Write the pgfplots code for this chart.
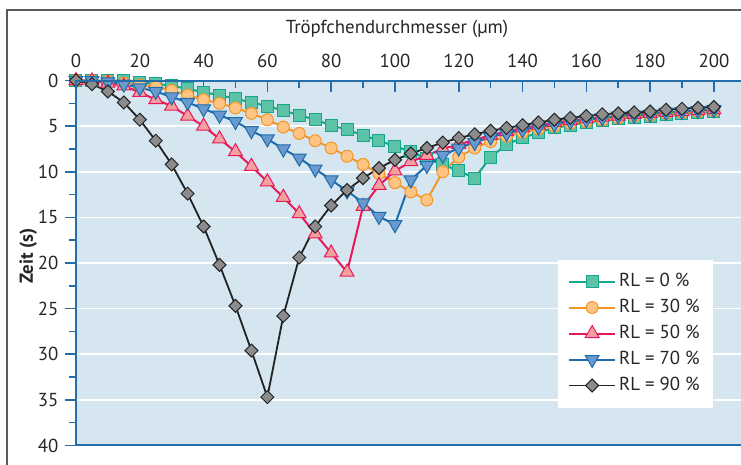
\documentclass[border=0pt]{standalone}
\usepackage{fontspec}
\setmainfont{PT Sans}
\usepackage{pgfplots}
\pgfplotsset{compat=1.18}

\definecolor{axisblue}{RGB}{38,110,170}
\definecolor{bgblue}{RGB}{213,230,240}
\definecolor{framegray}{RGB}{90,90,90}
\definecolor{tealline}{RGB}{22,166,140}
\definecolor{tealfill}{RGB}{93,195,167}
\definecolor{orangeline}{RGB}{243,150,40}
\definecolor{orangefill}{RGB}{255,196,130}
\definecolor{redline}{RGB}{232,25,90}
\definecolor{redfill}{RGB}{244,160,160}
\definecolor{blueline}{RGB}{28,108,174}
\definecolor{bluefill}{RGB}{106,154,205}
\definecolor{blackline}{RGB}{34,34,34}
\definecolor{grayfill}{RGB}{140,140,140}

\begin{document}
\fontsize{9.4}{11}\selectfont
\begin{tikzpicture}
\begin{axis}[
  scale only axis, width=332.5pt, height=182.5pt,
  xmin=0, xmax=208.5, ymin=0, ymax=40, y dir=reverse,
  clip=false,
  axis background/.style={fill=bgblue},
  axis line style={draw=none},
  xtick={0,20,...,200}, minor x tick num=1,
  ytick={0,5,...,40}, minor y tick num=1,
  xtick pos=upper, xticklabel pos=upper,
  ytick pos=left, yticklabel pos=left,
  tick align=inside, ytick align=outside,
  major tick length=5.5pt, minor tick length=3.5pt,
  tick style={axisblue, line width=0.8pt},
  ymajorgrids, major grid style={white, line width=0.8pt},
  /pgf/number format/assume math mode=true,
  tick label style={font=\fontsize{9.4}{11}\selectfont, text=black!85},
  xticklabel style={yshift=3pt},
  legend cell align=left,
  legend style={at={(0.958,0.103)}, anchor=south east, draw=none, fill=white,
    row sep=1pt, inner xsep=5pt, inner ysep=5pt,
    nodes={inner sep=1.5pt, text height=7pt, text depth=2pt},
    font=\fontsize{9.4}{11}\selectfont, text=black!85},
  legend image code/.code={\draw[mark repeat=2,mark phase=2,#1] plot coordinates {(0pt,0pt) (11.5pt,0pt) (23pt,0pt)};},
]

% RL = 0 %
\addplot[tealline, line width=1pt, mark=square*, mark size=3pt,
  mark options={fill=tealfill, draw=tealline, line width=0.5pt}] coordinates {
  (0,0) (5,0) (10,0) (15,0.05) (20,0.2) (25,0.35) (30,0.6) (35,0.9) (40,1.3)
  (45,1.6) (50,2.0) (55,2.4) (60,2.8) (65,3.3) (70,3.8) (75,4.3) (80,4.9)
  (85,5.4) (90,6.0) (95,6.6) (100,7.2) (105,7.8) (110,8.6) (115,9.2) (120,9.9)
  (125,10.7) (130,8.4) (135,7.0) (140,6.3) (145,5.7) (150,5.2) (155,4.9)
  (160,4.6) (165,4.4) (170,4.2) (175,4.0) (180,3.9) (185,3.7) (190,3.6)
  (195,3.5) (200,3.4)
};
\addlegendentry{RL = 0 \%}

% RL = 30 %
\addplot[orangeline, line width=1pt, mark=*, mark size=3pt,
  mark options={fill=orangefill, draw=orangeline, line width=0.5pt}] coordinates {
  (0,0) (5,0) (10,0.1) (15,0.3) (20,0.5) (25,0.7) (30,1.1) (35,1.6) (40,2.1)
  (45,2.5) (50,3.0) (55,3.6) (60,4.3) (65,5.1) (70,5.8) (75,6.6) (80,7.4)
  (85,8.3) (90,9.2) (95,10.2) (100,11.2) (105,12.2) (110,13.1) (115,10.0)
  (120,8.4) (125,7.4) (130,6.7) (135,6.1) (140,5.7) (145,5.3) (150,5.0)
  (155,4.7) (160,4.5) (165,4.3) (170,4.1) (175,3.9) (180,3.8) (185,3.6)
  (190,3.5) (195,3.4) (200,3.3)
};
\addlegendentry{RL = 30 \%}

% RL = 50 %
\addplot[redline, line width=1pt, mark=triangle*, mark size=4pt,
  mark options={fill=redfill, draw=redline, line width=0.5pt}] coordinates {
  (0,0) (5,0.05) (10,0.3) (15,0.6) (20,1.3) (25,2.1) (30,2.8) (35,3.9) (40,5.0)
  (45,6.4) (50,7.8) (55,9.4) (60,11.1) (65,12.8) (70,14.6) (75,16.8) (80,18.9)
  (85,21.0) (90,13.8) (95,11.5) (100,9.9) (105,8.9) (110,8.2) (115,7.5)
  (120,7.0) (125,6.5) (130,6.0) (135,5.6) (140,5.2) (145,4.9) (150,4.6)
  (155,4.4) (160,4.2) (165,4.0) (170,3.9) (175,3.7) (180,3.6) (185,3.5)
  (190,3.4) (195,3.3) (200,3.2)
};
\addlegendentry{RL = 50 \%}

% RL = 70 %
\addplot[blueline, line width=1pt, mark=triangle*, mark size=4pt,
  mark options={fill=bluefill, draw=blueline, line width=0.5pt, rotate=180}] coordinates {
  (0,0) (5,0) (10,0.15) (15,0.4) (20,0.8) (25,1.2) (30,1.8) (35,2.4) (40,3.1)
  (45,3.8) (50,4.5) (55,5.5) (60,6.4) (65,7.5) (70,8.5) (75,9.7) (80,10.9)
  (85,12.1) (90,13.4) (95,14.9) (100,15.8) (105,10.9) (110,9.3) (115,8.2)
  (120,7.4) (125,6.8) (130,6.2) (135,5.8) (140,5.4) (145,5.1) (150,4.8)
  (155,4.5) (160,4.3) (165,4.1) (170,3.9) (175,3.8) (180,3.7) (185,3.5)
  (190,3.4) (195,3.3) (200,3.2)
};
\addlegendentry{RL = 70 \%}

% RL = 90 %
\addplot[blackline, line width=0.9pt, mark=square*, mark size=2.3pt,
  mark options={fill=grayfill, draw=blackline, line width=0.5pt, rotate=45}] coordinates {
  (0,0) (5,0.4) (10,1.2) (15,2.4) (20,4.3) (25,6.6) (30,9.2) (35,12.4) (40,16.0)
  (45,20.2) (50,24.7) (55,29.6) (60,34.7) (65,25.8) (70,19.4) (75,16.0)
  (80,13.7) (85,12.0) (90,10.7) (95,9.6) (100,8.7) (105,8.0) (110,7.4)
  (115,6.8) (120,6.3) (125,5.9) (130,5.5) (135,5.2) (140,4.9) (145,4.6)
  (150,4.3) (155,4.1) (160,3.9) (165,3.7) (170,3.6) (175,3.5) (180,3.4)
  (185,3.2) (190,3.1) (195,3.0) (200,2.9)
};
\addlegendentry{RL = 90 \%}

\end{axis}

% axis lines: left, top, bottom
\draw[axisblue, line width=1pt] (current axis.north east) -- (current axis.north west)
  -- (current axis.south west) -- (current axis.south east);

% outer frame (top and left)
\draw[framegray, line width=1pt] ([xshift=-34.5pt,yshift=-12pt]current axis.south west)
  -- ([xshift=-34.5pt,yshift=35.5pt]current axis.north west)
  -- ([xshift=2pt,yshift=35.5pt]current axis.north east);

\node[anchor=base, text=black!85] at ([xshift=-5.75pt,yshift=23.75pt]current axis.north) {Tröpfchendurchmesser (µm)};
\node[rotate=90, anchor=base, text=black!85, font=\bfseries] at ([xshift=-21.5pt,yshift=3.5pt]current axis.west) {Zeit (s)};

\pgfresetboundingbox
\useasboundingbox ([xshift=-38pt,yshift=40.25pt]current axis.north west) rectangle ([yshift=-9.75pt]current axis.south east);
\end{tikzpicture}
\end{document}
